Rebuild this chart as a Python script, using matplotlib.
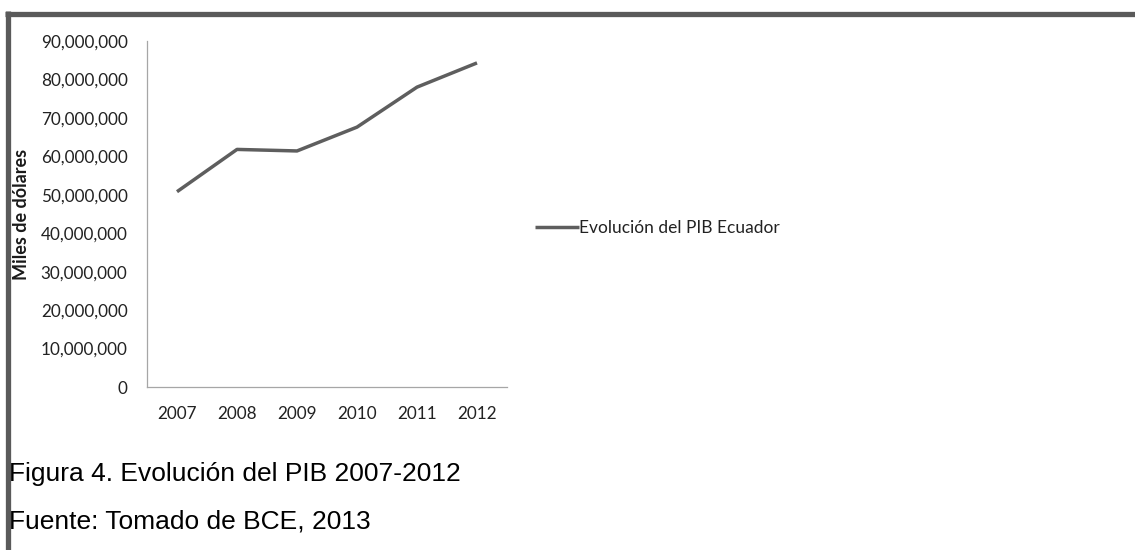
import matplotlib.pyplot as plt
from matplotlib.lines import Line2D
from matplotlib.ticker import FuncFormatter

years = ['2007', '2008', '2009', '2010', '2011', '2012']
pib = [50_800_000, 61_800_000, 61_400_000, 67_600_000, 78_000_000, 84_300_000]
yticks = [0, 10_000_000, 20_000_000, 30_000_000, 40_000_000, 50_000_000,
          60_000_000, 70_000_000, 80_000_000, 90_000_000]
serie = 'Evolución del PIB Ecuador'
ylabel = 'Miles de dólares'
caption1 = 'Figura 4. Evolución del PIB 2007-2012'
caption2 = 'Fuente: Tomado de BCE, 2013'

W, H = 1135, 550
fig = plt.figure(figsize=(W / 100, H / 100), dpi=100)
ax = fig.add_axes([147 / W, 1 - 387 / H, 360 / W, 346 / H])

line_col = '#5e5e5e'
ax.plot(range(len(years)), pib, color=line_col, lw=2.5, label=serie,
        solid_capstyle='butt')

ax.set_xlim(-0.5, len(years) - 0.5)
ax.set_ylim(0, 90_000_000)
ax.set_xticks(range(len(years)))
ax.set_xticklabels(years)
ax.set_yticks(yticks)
ax.yaxis.set_major_formatter(FuncFormatter(lambda v, p: f'{int(v):,}'))

for s in ['top', 'right']:
    ax.spines[s].set_visible(False)
for s in ['left', 'bottom']:
    ax.spines[s].set_color('#a6a6a6')
    ax.spines[s].set_linewidth(0.9)

ax.tick_params(axis='both', length=0, labelsize=12.3, labelcolor='#222222')
ax.tick_params(axis='y', pad=14)
ax.tick_params(axis='x', pad=14)
for t in ax.get_xticklabels() + ax.get_yticklabels():
    t.set_family('Lato')

fig.text(22 / W, 1 - 214 / H, ylabel, family='Lato', fontweight='bold',
         fontsize=13, color='#1a1a1a', rotation=90, ha='center', va='center')

ax.legend(loc='center left', bbox_to_anchor=(535 / W, 1 - 228 / H),
          bbox_transform=fig.transFigure, frameon=False, handlelength=2.55,
          handletextpad=0.0, borderpad=0, borderaxespad=0,
          prop={'family': 'Lato', 'size': 12.5})
for t in ax.get_legend().get_texts():
    t.set_color('#222222')

# captions
fig.text(9 / W, 1 - 481 / H, caption1, family='Liberation Sans', fontsize=19,
         va='baseline', ha='left', color='black')
fig.text(9 / W, 1 - 528 / H, caption2, family='Liberation Sans', fontsize=19,
         va='baseline', ha='left', color='black')

# page frame
frame_col = '#5a5a5a'
fig.add_artist(Line2D([5 / W, 1], [1 - 13.5 / H, 1 - 13.5 / H], color=frame_col,
                      lw=3.8, transform=fig.transFigure, solid_capstyle='butt'))
fig.add_artist(Line2D([7.5 / W, 7.5 / W], [0, 1 - 11 / H], color=frame_col,
                      lw=3.8, transform=fig.transFigure, solid_capstyle='butt'))

fig.savefig('out.png', dpi=100)
